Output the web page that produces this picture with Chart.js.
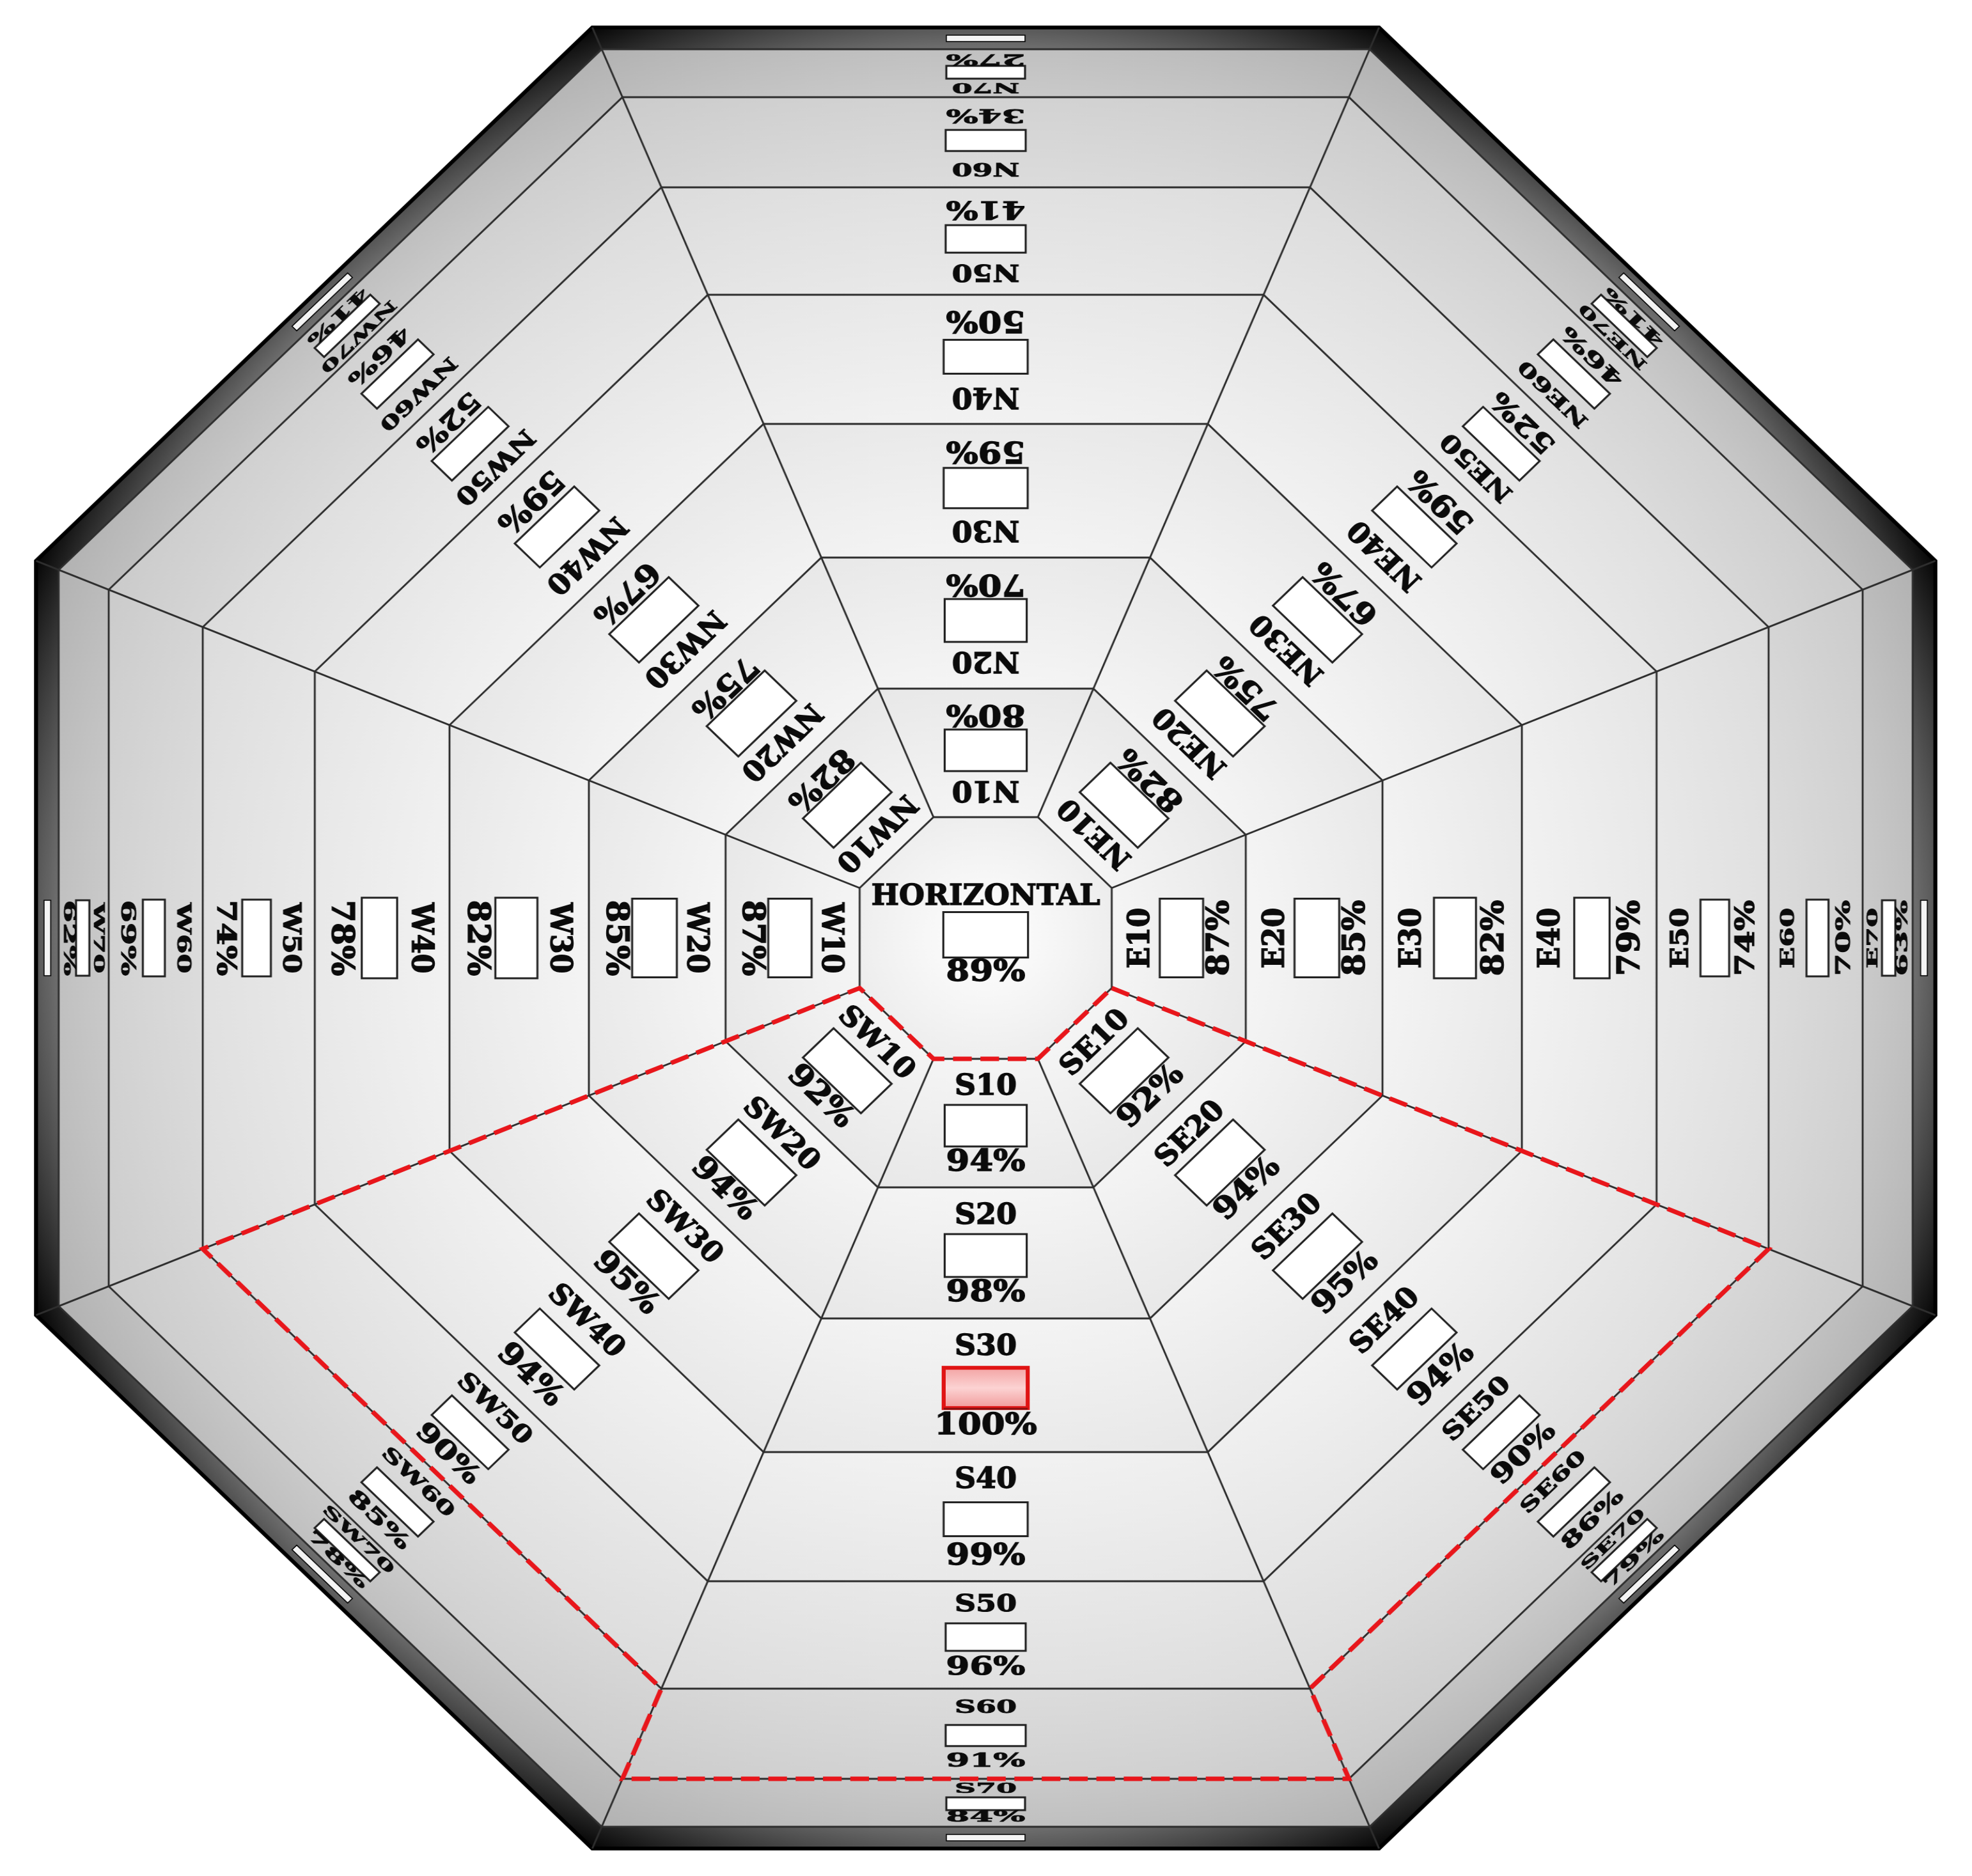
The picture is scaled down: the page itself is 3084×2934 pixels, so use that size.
<!DOCTYPE html>
<html>
<head>
<meta charset="utf-8">
<script src="https://cdn.jsdelivr.net/npm/chart.js@4.4.1/dist/chart.umd.min.js"></script>
<style>
html,body{margin:0;padding:0;background:#ffffff;overflow:hidden}
</style>
</head>
<body>
<canvas id="c" width="2957" height="2934" style="display:block;width:3084px;height:2934px"></canvas>
<script>
// ---------------- data ----------------
const directions = ['N', 'NE', 'E', 'SE', 'S', 'SW', 'W', 'NW'];
const tilts = [10, 20, 30, 40, 50, 60, 70];
const horizontalLabel = 'HORIZONTAL';
const horizontalValue = 89;
const valuesN  = [80, 70, 59, 50, 41, 34, 27];
const valuesNE = [82, 75, 67, 59, 52, 46, 41];
const valuesE  = [87, 85, 82, 79, 74, 70, 63];
const valuesSE = [92, 94, 95, 94, 90, 86, 79];
const valuesS  = [94, 98, 100, 99, 96, 91, 84];
const valuesSW = [92, 94, 95, 94, 90, 85, 78];
const valuesW  = [87, 85, 82, 78, 74, 69, 62];
const valuesNW = [82, 75, 67, 59, 52, 46, 41];
const highlightThreshold = 90;

// ---------------- layout / style ----------------
const seriesByDir = [valuesN, valuesNE, valuesE, valuesSE, valuesS, valuesSW, valuesW, valuesNW];
const SEC = 1 / Math.cos(Math.PI / 8);
// ring boundaries on the radial scale (apothem units); last two = outer frame band
const ringEdges = [189, 390, 595, 804, 1006, 1174, 1315, 1390, 1424];
const ringFills = [
  ['#ffffff', '#ededed'],
  ['#f5f5f5', '#e8e8e8'],
  ['#f5f5f5', '#e8e8e8'],
  ['#f4f4f4', '#e7e7e7'],
  ['#f2f2f2', '#e5e5e5'],
  ['#e9e9e9', '#dcdcdc'],
  ['#dcdcdc', '#cbcbcb'],
  ['#cacaca', '#b2b2b2'],
  ['#707070', '#050505']
];
const boxW = [123, 123, 126, 126, 120, 120, 118];
const boxH = [65, 67, 63, 53, 43, 33, 20];
const squash = [1, 1, 1, 1, 0.85, 0.65, 0.5];
const FONT = '"DejaVu Serif", "Liberation Serif", serif';

function apo(s, v) { return s.getDistanceFromCenterForValue(v * SEC) / SEC; }
function vtx(s, idx, v) { return s.getPointPosition(idx, s.getDistanceFromCenterForValue(v * SEC)); }

function drawText(ctx, txt, y, size, sy, sx) {
  ctx.save();
  ctx.translate(0, y);
  ctx.scale(sx || 1, sy);
  ctx.font = 'bold ' + size + 'px ' + FONT;
  ctx.textAlign = 'center';
  ctx.textBaseline = 'middle';
  ctx.fillStyle = '#0b0b0b';
  ctx.strokeStyle = '#0b0b0b';
  ctx.lineWidth = 1.4;
  ctx.fillText(txt, 0, 0);
  ctx.strokeText(txt, 0, 0);
  ctx.restore();
}
function drawBox(ctx, y, w, h, hot) {
  ctx.save();
  if (hot) {
    const g = ctx.createLinearGradient(0, y - h / 2, 0, y + h / 2);
    g.addColorStop(0, '#f3a4a4');
    g.addColorStop(0.5, '#fcd3d3');
    g.addColorStop(1, '#f19a9a');
    ctx.fillStyle = g;
    ctx.fillRect(-w / 2, y - h / 2, w, h);
    ctx.lineWidth = 6;
    ctx.strokeStyle = '#e01414';
    ctx.strokeRect(-w / 2, y - h / 2, w, h);
    ctx.lineWidth = 3;
    ctx.strokeStyle = '#8a1010';
    ctx.beginPath();
    ctx.moveTo(-w / 2, y + h / 2 + 1);
    ctx.lineTo(w / 2, y + h / 2 + 1);
    ctx.stroke();
  } else {
    ctx.fillStyle = '#ffffff';
    ctx.fillRect(-w / 2, y - h / 2, w, h);
    ctx.lineWidth = 3;
    ctx.strokeStyle = '#222222';
    ctx.strokeRect(-w / 2, y - h / 2, w, h);
  }
  ctx.restore();
}

const cellPlugin = {
  id: 'cells',
  afterDatasetsDraw(chart) {
    const s = chart.scales.r;
    const ctx = chart.ctx;
    const n = directions.length;
    const last = ringEdges.length - 1;

    // radial dividing lines
    ctx.save();
    ctx.strokeStyle = '#2e2e2e';
    ctx.lineWidth = 2.8;
    for (let k = 0; k < n; k++) {
      const a = vtx(s, k, ringEdges[0]);
      const b = vtx(s, k, ringEdges[last]);
      ctx.beginPath();
      ctx.moveTo(a.x, a.y);
      ctx.lineTo(b.x, b.y);
      ctx.stroke();
    }
    ctx.restore();

    // maximum cell
    let maxV = -Infinity;
    seriesByDir.forEach(arr => arr.forEach(v => { if (v > maxV) maxV = v; }));

    // cells
    for (let k = 0; k < n; k++) {
      const phi = s.getIndexAngle(k + 0.5);
      ctx.save();
      ctx.translate(s.xCenter, s.yCenter);
      ctx.rotate(phi - Math.PI);
      for (let j = 0; j < tilts.length; j++) {
        const rin = apo(s, ringEdges[j]);
        const rout = apo(s, ringEdges[j + 1]);
        const w = rout - rin;
        const val = seriesByDir[k][j];
        drawText(ctx, directions[k] + tilts[j], rin + 0.22 * w, 44, squash[j], 1);
        drawBox(ctx, rin + 0.52 * w, boxW[j], boxH[j], val === maxV);
        drawText(ctx, val + '%', rin + 0.81 * w, 47, squash[j], 1.08);
      }
      // thin light strip inside the outer frame band
      const b0 = apo(s, ringEdges[last - 1]);
      const b1 = apo(s, ringEdges[last]);
      const ym = (b0 + b1) / 2;
      ctx.fillStyle = '#f4f4f4';
      ctx.fillRect(-59, ym - 5, 118, 10);
      ctx.strokeStyle = '#000000';
      ctx.lineWidth = 1.5;
      ctx.strokeRect(-59, ym - 5, 118, 10);
      ctx.restore();
    }

    // centre: horizontal
    ctx.save();
    ctx.translate(s.xCenter, s.yCenter);
    drawText(ctx, horizontalLabel, -63, 44, 1, 1);
    drawBox(ctx, -5, 127, 71, horizontalValue === maxV);
    drawText(ctx, horizontalValue + '%', 55, 47, 1, 1.08);
    ctx.restore();

    // dashed outline around cells >= threshold (contiguous leading rings per direction)
    const cnt = seriesByDir.map(arr => {
      let c = 0;
      while (c < arr.length && arr[c] >= highlightThreshold) c++;
      return c;
    });
    let start = -1;
    for (let k = 0; k < n; k++) {
      if (cnt[k] > 0 && cnt[(k - 1 + n) % n] === 0) { start = k; break; }
    }
    if (start >= 0) {
      const run = [];
      for (let i = 0; i < n; i++) {
        const k = (start + i) % n;
        if (cnt[k] === 0) break;
        run.push(k);
      }
      const pts = [];
      pts.push(vtx(s, run[0], ringEdges[0]));
      run.forEach(k => {
        pts.push(vtx(s, k, ringEdges[cnt[k]]));
        pts.push(vtx(s, k + 1, ringEdges[cnt[k]]));
      });
      const endV = run[run.length - 1] + 1;
      for (let v = endV; v >= run[0]; v--) pts.push(vtx(s, v, ringEdges[0]));
      ctx.save();
      ctx.strokeStyle = '#e8161b';
      ctx.lineWidth = 7;
      ctx.setLineDash([28, 13]);
      ctx.lineJoin = 'miter';
      ctx.beginPath();
      pts.forEach((p, i) => i ? ctx.lineTo(p.x, p.y) : ctx.moveTo(p.x, p.y));
      ctx.closePath();
      ctx.stroke();
      ctx.restore();
    }
  }
};

const datasets = ringEdges.map((r, i) => ({
  label: i === 0 ? horizontalLabel : (i <= tilts.length ? 'Tilt ' + tilts[i - 1] : 'Frame'),
  data: directions.map(() => r * SEC),
  fill: 'origin',
  backgroundColor(c) {
    const chart = c.chart;
    const s = chart.scales && chart.scales.r;
    if (!s || !isFinite(s.xCenter) || !s.drawingArea) return ringFills[i][1];
    const rin = i === 0 ? 0 : apo(s, ringEdges[i - 1]);
    const rout = s.getDistanceFromCenterForValue(r * SEC);
    const g = chart.ctx.createRadialGradient(s.xCenter, s.yCenter, rin, s.xCenter, s.yCenter, rout);
    g.addColorStop(0, ringFills[i][0]);
    g.addColorStop(1, ringFills[i][1]);
    return g;
  },
  borderColor: i === ringEdges.length - 1 ? '#000000' : '#2e2e2e',
  borderWidth: i === ringEdges.length - 1 ? 6 : 2.8,
  pointRadius: 0,
  pointHoverRadius: 0,
  tension: 0
}));

new Chart(document.getElementById('c'), {
  type: 'radar',
  data: { labels: directions, datasets },
  options: {
    responsive: false,
    animation: false,
    devicePixelRatio: 1,
    layout: { padding: 0 },
    plugins: { legend: { display: false }, tooltip: { enabled: false }, title: { display: false } },
    elements: { line: { tension: 0, borderJoinStyle: 'miter' } },
    scales: {
      r: {
        min: 0,
        max: 1467,
        startAngle: 337.5,
        ticks: { display: false },
        grid: { display: false },
        angleLines: { display: false },
        pointLabels: { display: false }
      }
    }
  },
  plugins: [cellPlugin]
});
</script>
</body>
</html>
